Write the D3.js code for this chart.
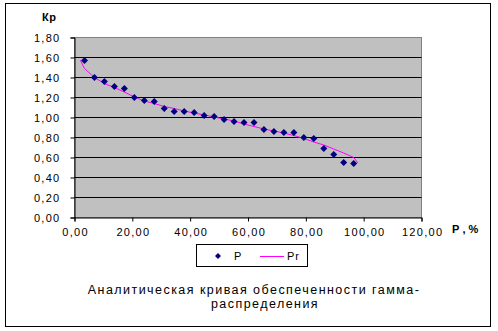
<!DOCTYPE html>
<html><head><meta charset="utf-8">
<script src="https://cdn.jsdelivr.net/npm/d3@7"></script>
<style>body{margin:0;background:#fff}svg{display:block}text{font-family:"Liberation Sans",Arial,sans-serif}</style>
</head><body>
<svg id="c" width="498" height="331"></svg>
<script>
const pX = [3.45,6.90,10.34,13.79,17.24,20.69,24.14,27.59,31.03,34.48,37.93,41.38,44.83,48.28,51.72,55.17,58.62,62.07,65.52,68.97,72.41,75.86,79.31,82.76,86.21,89.66,93.10,96.55];
const pY = [1.57,1.40,1.36,1.31,1.29,1.20,1.17,1.16,1.09,1.06,1.06,1.05,1.02,1.01,0.98,0.96,0.95,0.95,0.88,0.86,0.85,0.85,0.80,0.79,0.69,0.63,0.55,0.54];
const rX = [2.0,3.45,6.90,10.34,13.79,17.24,20.69,24.14,27.59,31.03,34.48,37.93,41.38,44.83,48.28,51.72,55.17,58.62,62.07,65.52,68.97,72.41,75.86,79.31,82.76,86.21,89.66,93.10,96.55,98.0];
const rY = [1.573,1.49,1.40,1.34,1.30,1.255,1.205,1.165,1.14,1.11,1.09,1.065,1.045,1.025,1.005,0.985,0.965,0.935,0.91,0.885,0.865,0.845,0.82,0.79,0.755,0.725,0.685,0.645,0.60,0.546];
const xTicks = [0,20,40,60,80,100,120];
const yTicks = [0,0.2,0.4,0.6,0.8,1.0,1.2,1.4,1.6,1.8];
const fmt = v => v.toFixed(2).replace('.', ',');

const svg = d3.select('#c');
const L = 74.5, R = 421.5, T = 37.5, B = 217.5;
const x = d3.scaleLinear().domain([0,120]).range([L,R]);
const y = d3.scaleLinear().domain([0,1.8]).range([B,T]);

svg.append('rect').attr('x',5.5).attr('y',3.5).attr('width',485).attr('height',323)
  .attr('fill','#fff').attr('stroke','#000');

svg.append('rect').attr('x',L).attr('y',T).attr('width',R-L).attr('height',B-T)
  .attr('fill','#c0c0c0').attr('stroke','#808080');

svg.append('g').selectAll('line').data(yTicks.filter(v=>v>0 && v<1.8)).join('line')
  .attr('x1',L).attr('x2',R).attr('y1',d=>y(d)).attr('y2',d=>y(d)).attr('stroke','#000');

const ax = svg.append('g').attr('transform',`translate(0,${B})`)
  .call(d3.axisBottom(x).tickValues(xTicks).tickFormat(fmt).tickSize(4).tickPadding(7));
const ay = svg.append('g').attr('transform',`translate(${L},0)`)
  .call(d3.axisLeft(y).tickValues(yTicks).tickFormat(fmt).tickSize(4).tickPadding(10));
[ax,ay].forEach(g=>{
  g.selectAll('path').attr('stroke','#000');
  g.selectAll('line').attr('stroke','#000');
  g.selectAll('text').attr('font-size',11).attr('fill','#000').attr('letter-spacing',1.3)
    .attr('font-family','"Liberation Sans",Arial,sans-serif');
});
ay.selectAll('text').attr('dy','0.35em');
ax.selectAll('text').attr('dx',0.6);

svg.append('path').datum(rX.map((v,i)=>[v,rY[i]]))
  .attr('d',d3.line().x(d=>x(d[0])).y(d=>y(d[1])))
  .attr('fill','none').attr('stroke','#ff00ff').attr('stroke-width',1);

const diamond = (cx,cy,r)=>`M${cx},${cy-r}L${cx+r},${cy}L${cx},${cy+r}L${cx-r},${cy}Z`;
svg.append('g').selectAll('path').data(pX.map((v,i)=>[v,pY[i]])).join('path')
  .attr('d',d=>diamond(x(d[0]),y(d[1]),3.5)).attr('fill','#000080');

svg.append('text').attr('x',42).attr('y',21).attr('font-size',11).attr('font-weight','bold').attr('letter-spacing',0.5).text('Кр');
svg.append('text').attr('x',452).attr('y',233).attr('font-size',11).attr('font-weight','bold').text('Р , %');

// legend
svg.append('rect').attr('x',196.5).attr('y',244.5).attr('width',111).attr('height',22).attr('fill','#fff').attr('stroke','#000');
svg.append('path').attr('d',diamond(218,256,3)).attr('fill','#000080');
svg.append('text').attr('x',234).attr('y',260).attr('font-size',11).text('P');
svg.append('line').attr('x1',260).attr('x2',284).attr('y1',256.5).attr('y2',256.5).attr('stroke','#ff00ff');
svg.append('text').attr('x',287).attr('y',260).attr('font-size',11).attr('letter-spacing',0.8).text('Pr');

svg.append('text').attr('x',254).attr('y',294).attr('text-anchor','middle').attr('font-size',12.5).attr('letter-spacing',1.45).text('Аналитическая кривая обеспеченности гамма-');
svg.append('text').attr('x',265).attr('y',308).attr('text-anchor','middle').attr('font-size',12.5).attr('letter-spacing',1.45).text('распределения');
</script>
</body></html>
